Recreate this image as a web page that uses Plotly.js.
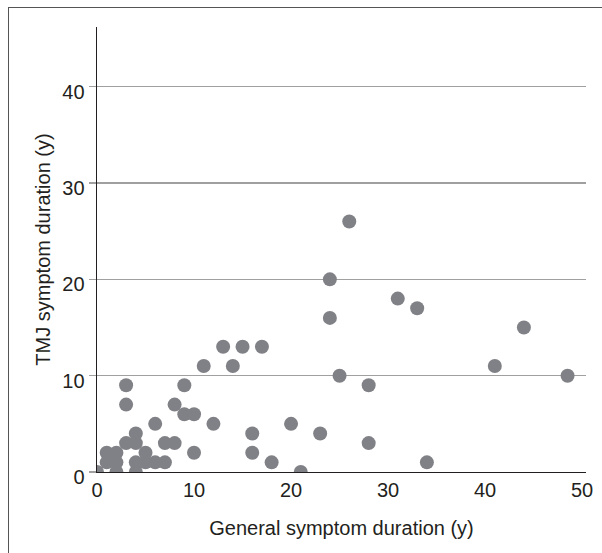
<!DOCTYPE html>
<html>
<head>
<meta charset="utf-8">
<script src="https://cdn.plot.ly/plotly-3.0.1.min.js"></script>
<style>
  html, body { margin: 0; padding: 0; background: #fff; }
  #wrap { position: relative; width: 602px; height: 553px; overflow: hidden; }
  #frame { position: absolute; left: 8px; top: 7px; width: 700px; height: 700px;
           border-left: 1.5px solid #555; border-top: 1.5px solid #555; pointer-events: none; z-index: 5; }
  #chart { position: absolute; left: 0; top: 0; width: 602px; height: 553px; }
</style>
</head>
<body>
<div id="wrap">
  <div id="chart"></div>
  <div id="frame"></div>
</div>
<script>
const generalDuration = [0, 1, 1, 2, 2, 2, 3, 3, 3, 4, 4, 4, 4, 5, 5, 6, 6, 7, 7, 8, 8, 9, 9, 10, 10, 11, 12, 13, 14, 15, 16, 16, 17, 18, 20, 21, 23, 24, 24, 25, 26, 28, 28, 31, 33, 34, 41, 44, 48.5];
const tmjDuration     = [0, 1, 2, 0, 1, 2, 3, 7, 9, 0, 1, 3, 4, 1, 2, 1, 5, 1, 3, 3, 7, 6, 9, 2, 6, 11, 5, 13, 11, 13, 2, 4, 13, 1, 5, 0, 4, 16, 20, 10, 26, 3, 9, 18, 17, 1, 11, 15, 10];
const xTicks = [0, 10, 20, 30, 40, 50];
const yTicks = [0, 10, 20, 30, 40];
const xTitle = 'General symptom duration (y)';
const yTitle = 'TMJ symptom duration (y)';

const trace = {
  x: generalDuration,
  y: tmjDuration,
  type: 'scatter',
  mode: 'markers',
  marker: { color: '#808186', size: 14, line: { width: 0 } },
  hoverinfo: 'x+y'
};

const fontFam = '"Liberation Sans", Arial, Helvetica, sans-serif';
const layout = {
  width: 602,
  height: 553,
  margin: { l: 97, r: 16, t: 27, b: 81, pad: 0 },
  paper_bgcolor: '#ffffff',
  plot_bgcolor: '#ffffff',
  showlegend: false,
  font: { family: fontFam, color: '#231f20', size: 20 },
  xaxis: {
    range: [0, 50.4],
    tickvals: xTicks,
    ticktext: xTicks.map(String),
    showline: true,
    linecolor: '#231f20',
    linewidth: 1.4,
    showgrid: false,
    zeroline: false,
    ticks: '',
    tickfont: { size: 20, color: '#231f20' },
    title: { text: xTitle, font: { size: 20, color: '#231f20' }, standoff: 20 }
  },
  yaxis: {
    range: [0, 46.2],
    tickvals: yTicks,
    ticktext: yTicks.map(String),
    showline: true,
    linecolor: '#231f20',
    linewidth: 1.4,
    showgrid: true,
    gridcolor: '#a0a0a0',
    gridwidth: 1.2,
    zeroline: false,
    ticks: 'outside',
    ticklen: 7,
    tickcolor: '#a0a0a0',
    tickwidth: 1.2,
    ticklabelshift: 5,
    tickfont: { size: 20, color: '#231f20' },
    title: { text: yTitle, font: { size: 20, color: '#231f20' }, standoff: 6 }
  }
};

Plotly.newPlot('chart', [trace], layout, { displayModeBar: false, staticPlot: true });
</script>
</body>
</html>
